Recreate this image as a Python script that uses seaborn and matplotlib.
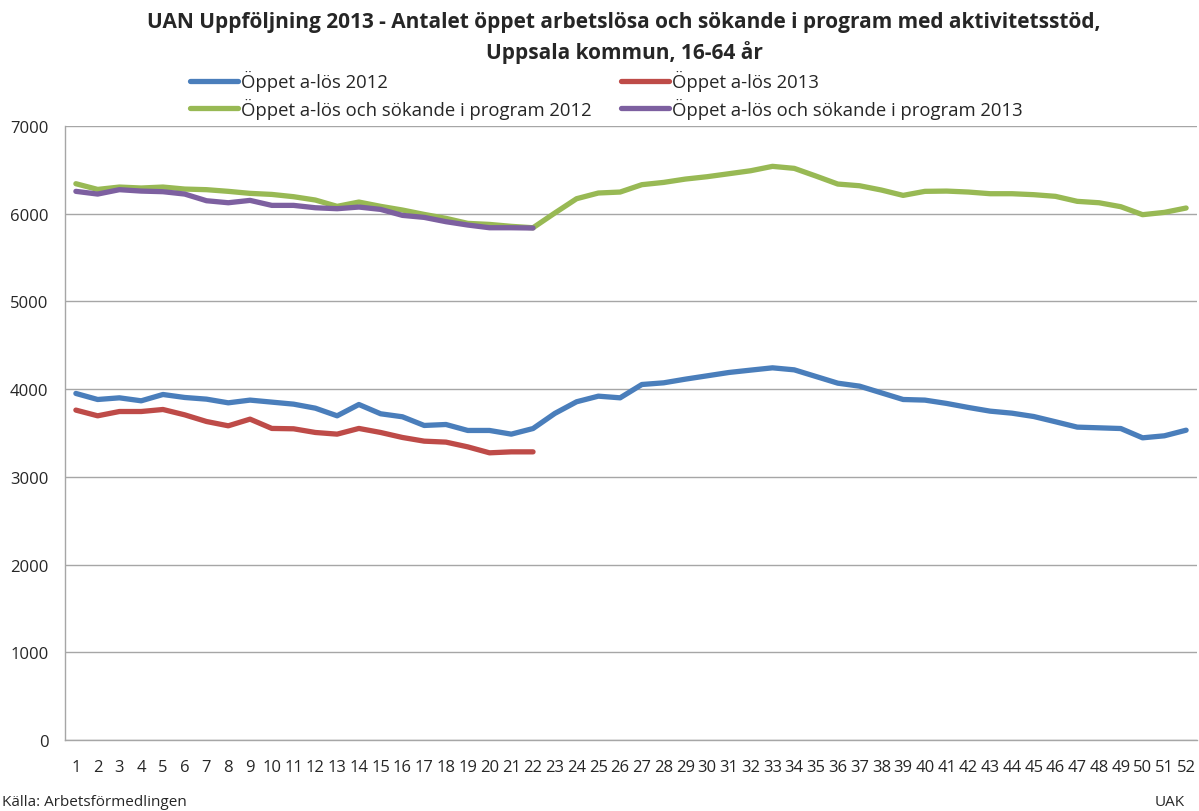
import matplotlib
matplotlib.use("Agg")
import matplotlib.pyplot as plt
import matplotlib.font_manager as fm
import seaborn as sns
import pandas as pd
import numpy as np

weeks = list(range(1, 53))

alos_2012 = [3951, 3882, 3901, 3867, 3939, 3905, 3886, 3844, 3875, 3852,
             3829, 3783, 3696, 3825, 3719, 3685, 3586, 3597, 3529, 3529,
             3487, 3551, 3723, 3856, 3920, 3901, 4053, 4072, 4114, 4152,
             4190, 4217, 4243, 4220, 4144, 4068, 4034, 3958, 3882, 3875,
             3837, 3791, 3749, 3726, 3688, 3628, 3567, 3559, 3551, 3445,
             3468, 3532]
alos_2013 = [3761, 3696, 3745, 3745, 3768, 3707, 3631, 3582, 3658, 3552,
             3548, 3506, 3487, 3552, 3506, 3449, 3407, 3396, 3342, 3274,
             3285, 3285]
prog_2012 = [6342, 6277, 6304, 6293, 6304, 6281, 6274, 6255, 6232, 6220,
             6194, 6156, 6084, 6133, 6084, 6042, 5992, 5947, 5890, 5878,
             5856, 5840, 6008, 6171, 6236, 6247, 6331, 6357, 6395, 6422,
             6456, 6490, 6540, 6517, 6429, 6338, 6319, 6270, 6209, 6255,
             6258, 6247, 6228, 6228, 6217, 6198, 6141, 6125, 6080, 5989,
             6015, 6065]
prog_2013 = [6255, 6224, 6274, 6258, 6251, 6224, 6148, 6125, 6152, 6095,
             6095, 6068, 6057, 6076, 6049, 5981, 5958, 5909, 5871, 5840,
             5840, 5837]

series_names = ["Öppet a-lös 2012", "Öppet a-lös 2013",
                "Öppet a-lös och sökande i program 2012",
                "Öppet a-lös och sökande i program 2013"]
colors = ["#4A7EBB", "#BE4B48", "#98B954", "#7D60A0"]

title = ("UAN Uppföljning 2013 - Antalet öppet arbetslösa och sökande i program med aktivitetsstöd,\n"
         "Uppsala kommun, 16-64 år")

frames = []
for name, vals in zip(series_names, [alos_2012, alos_2013, prog_2012, prog_2013]):
    frames.append(pd.DataFrame({"Vecka": weeks[:len(vals)], "Antal": vals, "Serie": name}))
df = pd.concat(frames, ignore_index=True)

sns.set_theme(style="white")
installed = {f.name for f in fm.fontManager.ttflist}
narrow = "Liberation Sans Narrow" if "Liberation Sans Narrow" in installed else "Open Sans"
plt.rcParams["font.family"] = [narrow, "DejaVu Sans"]

fig = plt.figure(figsize=(11.99, 8.12), dpi=100)
ax = fig.add_axes([65 / 1199, 1 - 741 / 812, (1197 - 65) / 1199, (741 - 127) / 812])

sns.lineplot(data=df, x="Vecka", y="Antal", hue="Serie", hue_order=series_names,
             palette=colors, linewidth=3.8, ax=ax, legend=False, sort=False)
for line in ax.get_lines():
    line.set_solid_capstyle("round")
    line.set_solid_joinstyle("round")

ax.set_xlim(0.5, 52.5)
ax.set_ylim(0, 7000)
ax.set_yticks(np.arange(0, 7001, 1000))
ax.set_xticks(weeks)
ax.set_xticklabels([str(w) for w in weeks], fontsize=12)
ax.tick_params(axis="y", labelsize=12, length=0, pad=12)
ax.tick_params(axis="x", length=0, pad=14)
ax.set_xlabel("")
ax.set_ylabel("")
ax.grid(axis="y", color="#A6A6A6", linewidth=1)
ax.set_axisbelow(True)
for s in ["top", "right"]:
    ax.spines[s].set_visible(False)
for s in ["left", "bottom"]:
    ax.spines[s].set_color("#A6A6A6")
    ax.spines[s].set_linewidth(1)

fig.text(624 / 1199, 1 - 38 / 812, title, ha="center", va="center", fontsize=15,
         fontweight="bold", linespacing=1.45)

handles = [plt.Line2D([], [], color=c, linewidth=3.8, solid_capstyle="round") for c in colors]
order = [0, 2, 1, 3]
fig.legend([handles[i] for i in order], [series_names[i] for i in order],
           ncol=2, loc="upper left", bbox_to_anchor=(190 / 1199, 1 - 71 / 812),
           frameon=False, fontsize=13.3, handlelength=2.6, handletextpad=0.15,
           columnspacing=1.6, labelspacing=0.35, borderaxespad=0, borderpad=0)

fig.text(2 / 1199, 1 - 803 / 812, "Källa: Arbetsförmedlingen", ha="left", va="center", fontsize=11)
fig.text(1185 / 1199, 1 - 803 / 812, "UAK", ha="right", va="center", fontsize=11)

fig.savefig("out.png", dpi=100)
